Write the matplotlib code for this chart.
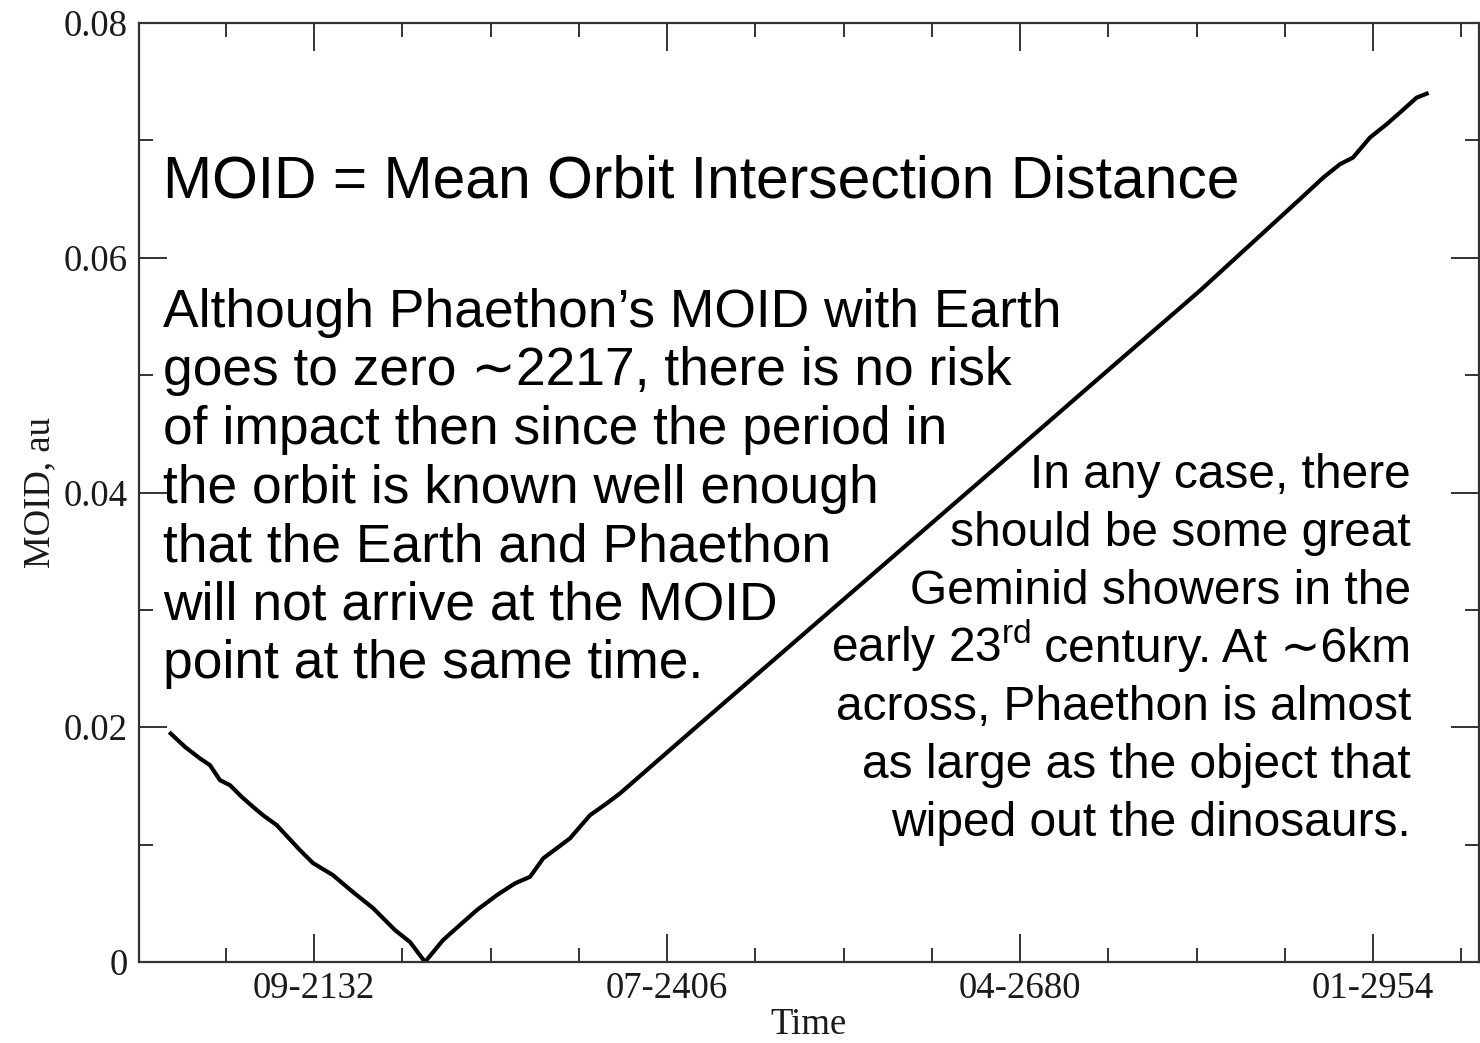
import matplotlib
matplotlib.use("Agg")
import matplotlib.pyplot as plt
from matplotlib.ticker import FixedLocator, AutoMinorLocator, MultipleLocator

# MOID of Phaethon with Earth (time in decimal years)
years = [2021.6, 2032.7, 2044.3, 2052.0, 2059.8, 2067.6, 2076.6, 2085.4, 2093.1,
         2103.8, 2121.8, 2131.9, 2147.4, 2162.9, 2178.4, 2195.5, 2207.2, 2218.8,
         2232.8, 2245.9, 2259.1, 2274.6, 2288.6, 2300.3, 2310.5, 2331.2, 2346.8,
         2359.7, 2370.0, 2432.1, 2509.7, 2587.2, 2664.8, 2742.3, 2819.9, 2897.5,
         2915.5, 2928.5, 2938.6, 2951.7, 2964.7, 2975.0, 2987.9, 2995.7]
moid = [0.01946, 0.01832, 0.01734, 0.01677, 0.01549, 0.01506, 0.01407, 0.01322, 0.01251,
        0.01166, 0.00953, 0.00843, 0.00740, 0.00596, 0.00460, 0.00272, 0.00170, 0.0,
        0.00187, 0.00315, 0.00443, 0.00570, 0.00670, 0.00726, 0.00883, 0.01053, 0.01251,
        0.01351, 0.01436, 0.02030, 0.02768, 0.03505, 0.04243, 0.04982, 0.05720, 0.06500,
        0.06683, 0.06797, 0.06854, 0.07024, 0.07138, 0.07237, 0.07364, 0.07398]

xtick_pos = [2132.7, 2406.5, 2680.3, 2954.1]
xtick_labels = ['09-2132', '07-2406', '04-2680', '01-2954']
ytick_pos = [0, 0.02, 0.04, 0.06, 0.08]
ytick_labels = ['0', '0.02', '0.04', '0.06', '0.08']

title_text = "MOID = Mean Orbit Intersection Distance"
left_lines = ["Although Phaethon\u2019s MOID with Earth",
              "goes to zero \u223c2217, there is no risk",
              "of impact then since the period in",
              "the orbit is known well enough",
              "that the Earth and Phaethon",
              "will not arrive at the MOID",
              "point at the same time."]
# each right-hand line is (part with superscript or None, plain part)
right_lines = [(None, "In any case, there"),
               (None, "should be some great"),
               (None, "Geminid showers in the"),
               ("early 23$^{\\mathrm{rd}}$", " century. At \u223c6km"),
               (None, "across, Phaethon is almost"),
               (None, "as large as the object that"),
               (None, "wiped out the dinosaurs.")]

plt.rcParams['mathtext.fontset'] = 'custom'
plt.rcParams['mathtext.rm'] = 'Liberation Sans'
plt.rcParams['mathtext.it'] = 'Liberation Sans'

W, H = 1480, 1043
fig = plt.figure(figsize=(W / 100, H / 100), dpi=100)
ax = fig.add_axes([139 / W, 1 - 962 / H, (1478.5 - 139) / W, (962 - 23) / H])

ax.plot(years, moid, color='black', lw=3.0, solid_joinstyle='round')

ax.set_xlim(1996.97, 3035.9)
ax.set_ylim(0, 0.08)

ax.xaxis.set_major_locator(FixedLocator(xtick_pos))
ax.set_xticklabels(xtick_labels)
ax.xaxis.set_minor_locator(AutoMinorLocator(4))
ax.yaxis.set_major_locator(FixedLocator(ytick_pos))
ax.set_yticklabels(ytick_labels)
ax.yaxis.set_minor_locator(MultipleLocator(0.01))

spine_col = '#333333'
for s in ax.spines.values():
    s.set_linewidth(1.6)
    s.set_color(spine_col)
ax.tick_params(which='both', direction='in', top=True, right=True,
               color=spine_col, width=1.4)
ax.tick_params(which='major', length=20)
ax.tick_params(which='minor', length=10)
ax.tick_params(axis='x', which='major', pad=7)
ax.tick_params(axis='y', which='major', pad=8)

serif = 'Liberation Serif'
for lab in ax.get_xticklabels() + ax.get_yticklabels():
    lab.set_fontfamily(serif)
    lab.set_fontsize(26.5)
    lab.set_color('#1a1a1a')
ax.set_xlabel('Time', fontfamily=serif, fontsize=26.5, color='#1a1a1a', labelpad=1)
ax.set_ylabel('MOID, au', fontfamily=serif, fontsize=26.5, color='#1a1a1a', labelpad=5)

sans = ['Liberation Sans', 'DejaVu Sans']


def fx(px):
    return px / W


def fy(py):
    return 1 - py / H


fig.text(fx(163), fy(197), title_text, fontsize=42.3, family=sans,
         ha='left', va='baseline')

for i, line in enumerate(left_lines):
    fig.text(fx(163), fy(327 + i * 58.5), line, fontsize=38.4, family=sans,
             ha='left', va='baseline')

renderer = fig.canvas.get_renderer()
for i, (sup_part, plain) in enumerate(right_lines):
    y = fy(488 + i * 58)
    t = fig.text(fx(1411), y, plain, fontsize=34.5, family=sans,
                 ha='right', va='baseline')
    if sup_part is not None:
        x0 = t.get_window_extent(renderer).x0
        fig.text(x0 / W, y, sup_part, fontsize=34.5, family=sans,
                 ha='right', va='baseline')

fig.savefig('out.png', dpi=100)
